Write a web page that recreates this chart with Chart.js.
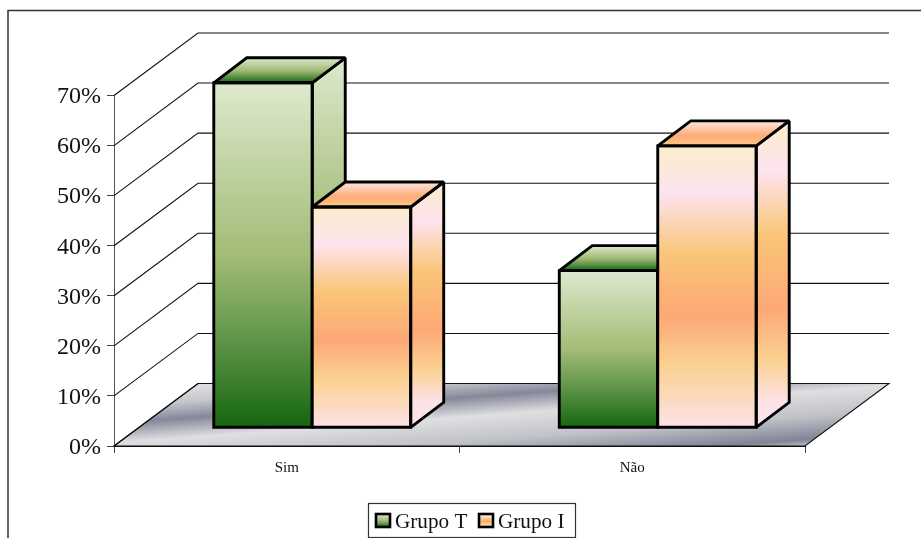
<!DOCTYPE html>
<html>
<head>
<meta charset="utf-8">
<style>
  html, body { margin: 0; padding: 0; background: #fff; overflow: hidden; }
  canvas { display: block; }
</style>
<script src="https://cdn.jsdelivr.net/npm/chart.js@4"></script>
</head>
<body>
<canvas id="chart" width="921" height="538"></canvas>
<script>
// Values, in percent
const categories = ['Sim', 'Não'];
const grupoT = [68.9, 31.4];
const grupoI = [44.1, 56.3];
const seriesNames = ['Grupo T', 'Grupo I'];
const yTicks = [0, 10, 20, 30, 40, 50, 60, 70];

// Colour ramps, top to bottom
const greenRamp = [[0, '#dde9ce'], [0.5, '#a3bc76'], [0.72, '#66994f'], [1, '#146610']];
const orangeRamp = [[0, '#fbedcb'], [0.17, '#fde3ef'], [0.38, '#fac679'], [0.6, '#fda876'],
                    [0.78, '#fbd191'], [1, '#fde2e8']];
const orangeSide = [[0, '#fbedcb'], [0.18, '#fde3ef'], [0.4, '#fac679'], [0.67, '#fda876'],
                    [0.85, '#fbd191'], [1, '#fde2e8']];
const orangeLid = [[0, '#fde6e2'], [0.6, '#fdab74'], [1, '#fbcb88']];
const floorRamp = [[0, '#e2e2e4'], [0.16, '#c4c6cc'], [0.31, '#858899'], [0.49, '#dfdfe1'],
                   [0.72, '#c0c2c8'], [0.93, '#808496'], [1, '#c5c6cc']];

// Oblique projection of the scene
const WALL = { dx: 84, dy: -62.5 };      // floor depth
const FRONT = { dx: 25.5, dy: -18.2 };   // front plane of the bars
const DEPTH = { dx: 33, dy: -25 };       // bar depth

const SERIF = '"Liberation Serif", "Times New Roman", serif';

function ramp(ctx, y0, y1, stops) {
  const g = ctx.createLinearGradient(0, y0, 0, y1);
  stops.forEach(s => g.addColorStop(s[0], s[1]));
  return g;
}

function path(ctx, pts) {
  ctx.beginPath();
  pts.forEach((p, i) => i ? ctx.lineTo(p[0], p[1]) : ctx.moveTo(p[0], p[1]));
  ctx.closePath();
}

// Front faces take their ramp from the bar's own value range
function frontFill(stops) {
  return c => {
    const y = c.chart.scales.y;
    const y0 = y ? y.getPixelForValue(c.raw) : NaN;
    const y1 = y ? y.getPixelForValue(0) : NaN;
    if (!Number.isFinite(y0) || !Number.isFinite(y1)) return stops[0][1];
    return ramp(c.chart.ctx, y0, y1, stops);
  };
}

const frame = {
  id: 'frame',
  beforeDraw(chart) {
    const ctx = chart.ctx;
    ctx.save();
    ctx.strokeStyle = '#333';
    ctx.lineWidth = 1.5;
    ctx.beginPath();
    ctx.moveTo(8, chart.height + 2);
    ctx.lineTo(8, 10.5);
    ctx.lineTo(chart.width + 2, 10.5);
    ctx.stroke();
    ctx.restore();
  }
};

const scene3d = {
  id: 'scene3d',
  beforeDatasetsDraw(chart) {
    const ctx = chart.ctx;
    const { x: xs, y: ys } = chart.scales;
    const L = xs.left, R = xs.right, B = ys.getPixelForValue(0);
    ctx.save();

    // Floor
    const fy0 = B + WALL.dy;
    const grad = ctx.createLinearGradient(L + WALL.dx, fy0, L + WALL.dx + 8, fy0 + 108);
    floorRamp.forEach(s => grad.addColorStop(s[0], s[1]));
    path(ctx, [[L, B], [L + WALL.dx, fy0], [R + WALL.dx, fy0], [R, B]]);
    ctx.fillStyle = grad;
    ctx.fill();
    ctx.strokeStyle = '#111';
    ctx.lineWidth = 1.1;
    ctx.stroke();

    // Wall grid lines, side and back
    ys.ticks.forEach(t => {
      const py = ys.getPixelForValue(t.value);
      ctx.beginPath();
      ctx.moveTo(L, py);
      ctx.lineTo(L + WALL.dx, py + WALL.dy);
      ctx.lineTo(R + WALL.dx, py + WALL.dy);
      ctx.stroke();
    });

    // Bars: series one first so that series two overlaps its side face
    chart.data.datasets.forEach((ds, di) => {
      const isGreen = di === 0;
      const side = isGreen ? greenRamp : orangeSide;
      const lid = isGreen ? greenRamp : orangeLid;
      chart.getDatasetMeta(di).data.forEach(bar => {
        const l = bar.x - bar.width / 2 + FRONT.dx;
        const r = bar.x + bar.width / 2 + FRONT.dx;
        const t = bar.y + FRONT.dy;
        const b = bar.base + FRONT.dy;

        ctx.save();
        ctx.translate(FRONT.dx, FRONT.dy);
        bar.draw(ctx);
        ctx.restore();

        ctx.strokeStyle = '#000';
        ctx.lineWidth = 2.9;
        ctx.lineJoin = 'miter';
        ctx.miterLimit = 2;

        path(ctx, [[r, t], [r + DEPTH.dx, t + DEPTH.dy], [r + DEPTH.dx, b + DEPTH.dy], [r, b]]);
        ctx.fillStyle = ramp(ctx, t + DEPTH.dy, b + DEPTH.dy, side);
        ctx.fill();
        ctx.stroke();

        path(ctx, [[l, t], [l + DEPTH.dx, t + DEPTH.dy], [r + DEPTH.dx, t + DEPTH.dy], [r, t]]);
        ctx.fillStyle = ramp(ctx, t + DEPTH.dy, t, lid);
        ctx.fill();
        ctx.stroke();

        path(ctx, [[l, t], [r, t], [r, b], [l, b]]);
        ctx.stroke();
      });
    });

    ctx.restore();
    return false;
  }
};

const boxedLegend = {
  id: 'boxedLegend',
  afterDraw(chart) {
    const ctx = chart.ctx;
    ctx.save();
    ctx.strokeStyle = '#333';
    ctx.lineWidth = 1.2;
    ctx.strokeRect(368.5, 503.5, 207, 34);
    ctx.font = '21.2px ' + SERIF;
    ctx.textBaseline = 'alphabetic';
    ctx.textAlign = 'left';
    const items = [[376, 395, greenRamp], [479, 498, orangeRamp]];
    chart.data.datasets.forEach((ds, i) => {
      const [bx, tx, stops] = items[i];
      ctx.fillStyle = ramp(ctx, 514, 527, stops);
      ctx.fillRect(bx, 514, 14, 13);
      ctx.strokeStyle = '#000';
      ctx.lineWidth = 2.6;
      ctx.strokeRect(bx, 514, 14, 13);
      ctx.fillStyle = '#111';
      ctx.fillText(ds.label, tx, 528);
    });
    ctx.restore();
  }
};

new Chart(document.getElementById('chart'), {
  type: 'bar',
  data: {
    labels: categories,
    datasets: [
      { label: seriesNames[0], data: grupoT, backgroundColor: frontFill(greenRamp), borderWidth: 0 },
      { label: seriesNames[1], data: grupoI, backgroundColor: frontFill(orangeRamp), borderWidth: 0 }
    ]
  },
  options: {
    responsive: false,
    animation: false,
    events: [],
    layout: { padding: { left: 0, top: 95.5, right: 116, bottom: 52 } },
    categoryPercentage: 0.57,
    barPercentage: 1,
    plugins: { legend: { display: false }, tooltip: { enabled: false }, title: { display: false } },
    scales: {
      x: {
        afterFit: s => { s.height = 40; },
        grid: { drawOnChartArea: false, tickLength: 7, color: '#444', lineWidth: 1 },
        border: { color: '#111', width: 1 },
        ticks: { color: '#111', font: { family: SERIF, size: 15 }, padding: 6, maxRotation: 0 }
      },
      y: {
        min: 0,
        max: 70,
        afterFit: s => { s.width = 114; },
        afterBuildTicks: s => { s.ticks = yTicks.map(v => ({ value: v })); },
        grid: { drawOnChartArea: false, tickLength: 7, color: '#444', lineWidth: 1 },
        border: { color: '#555', width: 1 },
        ticks: { color: '#111', font: { family: SERIF, size: 24 }, padding: 6, labelOffset: 1.5, callback: v => v + '%' }
      }
    }
  },
  plugins: [frame, scene3d, boxedLegend]
});
</script>
</body>
</html>
